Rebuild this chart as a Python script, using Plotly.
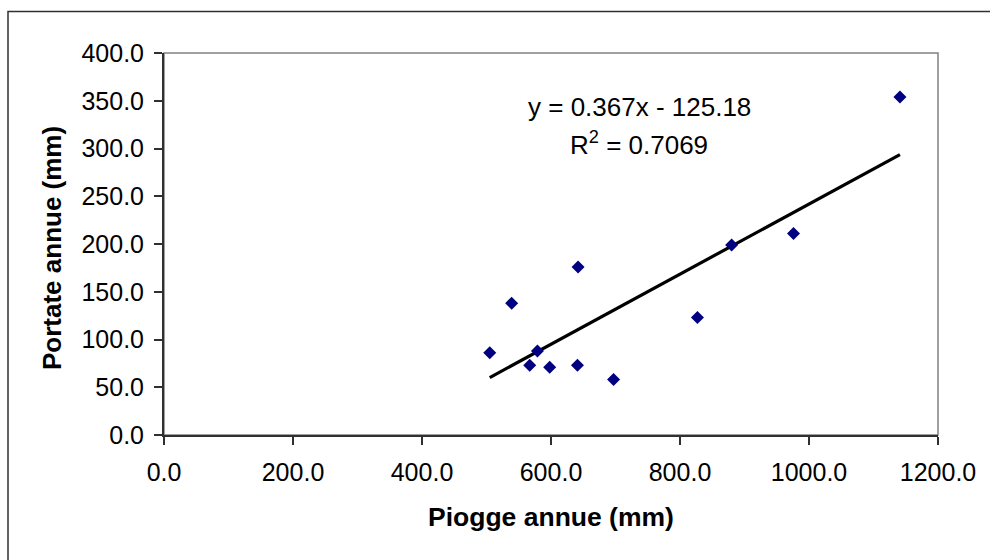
import plotly.graph_objects as go

# Data
piogge = [505, 539, 579, 567, 598, 641, 697, 827, 642, 880, 976, 1141]
portate = [86, 138, 88, 73, 71, 73, 58, 123, 176, 199, 211, 354]
slope = 0.367
intercept = -125.18
r2 = 0.7069

x_ticks = [0, 200, 400, 600, 800, 1000, 1200]
y_ticks = [0, 50, 100, 150, 200, 250, 300, 350, 400]

FONT = "Liberation Sans, Arial, sans-serif"

trend_x = [min(piogge), max(piogge)]
trend_y = [slope * v + intercept for v in trend_x]

fig = go.Figure()
fig.add_trace(go.Scatter(
    x=trend_x, y=trend_y, mode="lines",
    line=dict(color="black", width=3.2), showlegend=False, hoverinfo="skip"))
fig.add_trace(go.Scatter(
    x=piogge, y=portate, mode="markers",
    marker=dict(symbol="diamond", size=10, color="#000080", line=dict(width=0)),
    showlegend=False))

W, H = 990, 560
L, R, T, B = 164, 52, 53, 125
pw = W - L - R
ph = H - T - B

fig.update_layout(
    width=W, height=H,
    margin=dict(l=L, r=R, t=T, b=B, pad=0),
    paper_bgcolor="white", plot_bgcolor="white",
    font=dict(family=FONT, size=25, color="black"),
    xaxis=dict(range=[0, 1200], tickvals=x_ticks,
               ticktext=[f"{v:.1f}" for v in x_ticks],
               showgrid=False, zeroline=False, showline=True,
               linecolor="#303030", linewidth=2, ticks="outside",
               ticklen=8, tickwidth=1.5, tickcolor="#303030",
               ticklabelstandoff=6,
               tickfont=dict(size=25)),
    yaxis=dict(range=[0, 400], tickvals=y_ticks,
               ticktext=[f"{v:.1f}" for v in y_ticks],
               showgrid=False, zeroline=False, showline=True,
               linecolor="#303030", linewidth=2, ticks="outside",
               ticklen=8, tickwidth=1.5, tickcolor="#303030",
               ticklabelstandoff=5,
               tickfont=dict(size=25)),
    shapes=[
        # plot area border (top/right gray)
        dict(type="rect", xref="paper", yref="paper", x0=0, y0=0, x1=1, y1=1,
             line=dict(color="#808080", width=1.5), layer="below"),
        # outer chart frame
        dict(type="rect", xref="paper", yref="paper",
             x0=(8 - L) / pw, x1=(1000 - L) / pw,
             y0=(T + ph - 600) / ph, y1=(T + ph - 11.5) / ph,
             line=dict(color="#303030", width=1.5)),
    ],
    annotations=[
        dict(text="<b>Piogge annue (mm)</b>", xref="paper", yref="paper",
             x=0.5, y=0, yshift=-82, xanchor="center", yanchor="middle",
             showarrow=False, font=dict(size=26.5)),
        dict(text="<b>Portate annue (mm)</b>", xref="paper", yref="paper",
             x=0, y=0.5, xshift=-112, yshift=-4, xanchor="center", yanchor="middle",
             textangle=-90, showarrow=False, font=dict(size=26)),
        dict(text=f"y = {slope}x - {abs(intercept):.2f}", xref="paper", yref="paper",
             x=(639 - L) / pw, y=(T + ph - 106.7) / ph, xanchor="center", yanchor="middle",
             showarrow=False, font=dict(size=26)),
        dict(text=f"R<sup>2</sup> = {r2}", xref="paper", yref="paper",
             x=(639 - L) / pw, y=(T + ph - 143) / ph, xanchor="center", yanchor="middle",
             showarrow=False, font=dict(size=26)),
    ],
)

fig.write_html("out.html")
